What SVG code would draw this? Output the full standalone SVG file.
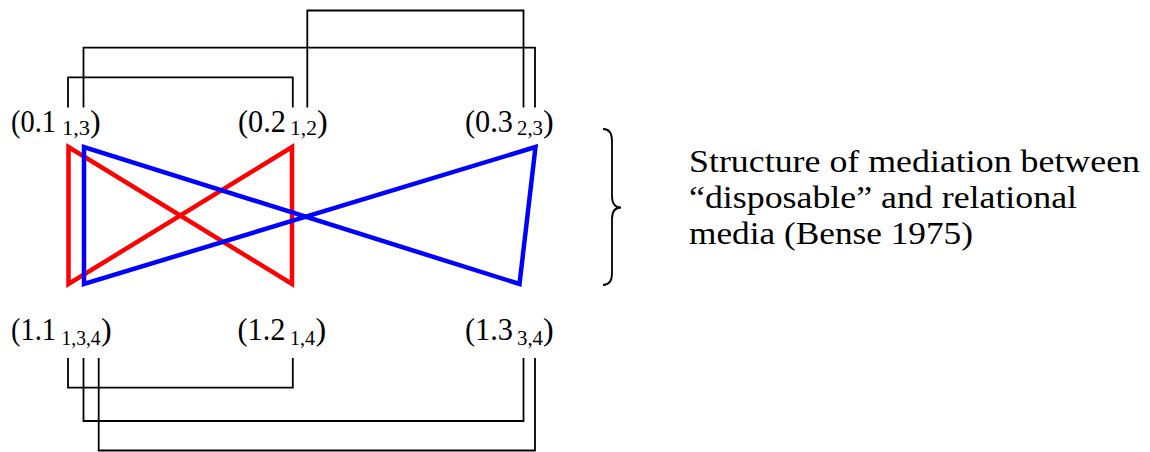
<svg xmlns="http://www.w3.org/2000/svg" width="1150" height="452" viewBox="0 0 1150 452">
<style>
.bg{fill:#fff}
.conn{fill:none;stroke:#000;stroke-width:1.8}
.lbl{font-family:"Liberation Serif","Times New Roman",serif;font-size:32px;fill:#000}
.sub{font-family:"Liberation Serif","Times New Roman",serif;font-size:20px;fill:#000}
.cap{font-family:"Liberation Serif","Times New Roman",serif;font-size:31px;fill:#000}
.red{fill:none;stroke:#ff0000;stroke-width:4.5;stroke-linejoin:miter}
.blue{fill:none;stroke:#0000ff;stroke-width:4.5;stroke-linejoin:miter}
</style>
<rect class="bg" x="0" y="0" width="1150" height="452"/>
<g id="connectors">
<path class="conn" d="M68,107.5 V77.3 H292.8 V107.5"/>
<path class="conn" d="M83.5,107.5 V47.7 H535 V107.5"/>
<path class="conn" d="M307.3,107.5 V10.5 H523.5 V107.5"/>
<path class="conn" d="M68,358 V387.7 H292.8 V358"/>
<path class="conn" d="M83.5,358 V421 H523.5 V358"/>
<path class="conn" d="M98.7,358 V450.5 H535 V358"/>
</g>
<g id="red-structure">
<path class="red" d="M68.5,284 V147 L292,284 V147 Z"/>
</g>
<g id="blue-structure">
<path class="blue" d="M84,284 V147 L519.5,284 L535.5,147 Z"/>
</g>
<g id="n01"><text class="lbl" x="11" y="132" textLength="45" lengthAdjust="spacingAndGlyphs">(0.1</text><text class="sub" x="62" y="135" textLength="28" lengthAdjust="spacingAndGlyphs">1,3</text><text class="lbl" x="90" y="132">)</text></g>
<g id="n02"><text class="lbl" x="238" y="132" textLength="48" lengthAdjust="spacingAndGlyphs">(0.2</text><text class="sub" x="290" y="135" textLength="27" lengthAdjust="spacingAndGlyphs">1,2</text><text class="lbl" x="317" y="132">)</text></g>
<g id="n03"><text class="lbl" x="465" y="132" textLength="48" lengthAdjust="spacingAndGlyphs">(0.3</text><text class="sub" x="517" y="135" textLength="26" lengthAdjust="spacingAndGlyphs">2,3</text><text class="lbl" x="543" y="132">)</text></g>
<g id="n11"><text class="lbl" x="11" y="340" textLength="45" lengthAdjust="spacingAndGlyphs">(1.1</text><text class="sub" x="61.5" y="345" textLength="39" lengthAdjust="spacingAndGlyphs">1,3,4</text><text class="lbl" x="101" y="340">)</text></g>
<g id="n12"><text class="lbl" x="237.5" y="340" textLength="48" lengthAdjust="spacingAndGlyphs">(1.2</text><text class="sub" x="290" y="345" textLength="25" lengthAdjust="spacingAndGlyphs">1,4</text><text class="lbl" x="315.5" y="340">)</text></g>
<g id="n13"><text class="lbl" x="465" y="340" textLength="48" lengthAdjust="spacingAndGlyphs">(1.3</text><text class="sub" x="517" y="345" textLength="26" lengthAdjust="spacingAndGlyphs">3,4</text><text class="lbl" x="543" y="340">)</text></g>
<g id="caption">
<path class="conn" d="M603,129 Q612,129 612,141 L612,196 Q612,207.5 621,207.5 Q612,207.5 612,219 L612,273 Q612,285 603,285"/>
<text class="cap" x="689" y="172" textLength="451" lengthAdjust="spacingAndGlyphs">Structure of mediation between</text>
<text class="cap" x="689" y="208" textLength="388" lengthAdjust="spacingAndGlyphs">“disposable” and relational</text>
<text class="cap" x="689" y="244" textLength="284" lengthAdjust="spacingAndGlyphs">media (Bense 1975)</text>
</g>
</svg>
